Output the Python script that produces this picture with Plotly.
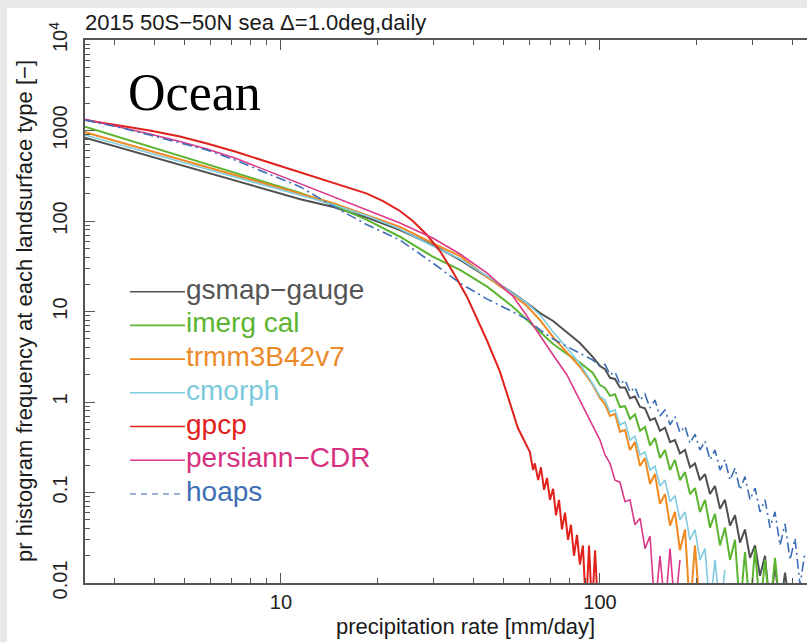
import math
import plotly.graph_objects as go

# ---------------- data ----------------
rate_body = [2.43, 3.13, 3.88, 4.82, 5.86, 7.17, 8.79, 11.5, 14.6, 18.6, 23.6,
             29.9, 36.4, 44.3, 53.3, 59.0, 64.9, 71.3, 78.8, 86.5, 95.0]
rate_tail = [100, 103.7, 107.5, 111.4, 115.5, 119.8, 124.2, 128.7, 133.5, 138.4,
             143.5, 148.7, 154.2, 159.9, 165.8, 171.8, 178.1, 184.7, 191.5, 198.5,
             205.8, 213.4, 221.2, 229.3, 237.8, 246.5, 255.6, 265.0, 274.7, 284.8,
             295.3, 306.2, 317.4, 329.1, 341.2, 353.7, 366.7, 380.2, 394.2, 408.6,
             423.7, 439.2]

gsmap_body = [833, 645, 519, 417, 343, 280, 228, 174, 143, 109, 79.5,
              54.3, 37.1, 24.2, 16.0, 12.4, 9.6, 7.85, 5.94, 4.49, 3.14]
gsmap_tail = [2.5, 2.3, 1.85, 1.8, 1.45, 1.45, 1.1, 1.15, 0.88, 0.85, 0.63, 0.66,
              0.48, 0.52, 0.36, 0.38, 0.27, 0.295, 0.19, 0.21, 0.137, 0.16, 0.096,
              0.118, 0.066, 0.083, 0.043, 0.056, 0.028, 0.039, 0.019, 0.026, 0.012,
              0.020, 0.005, 0.016, 0.005, 0.013, 0.005]

imerg_body = [1102, 837, 662, 524, 424, 340, 273, 204, 150, 103, 67,
              40.3, 28.8, 18.8, 11.3, 8.05, 5.93, 4.37, 3.39, 2.73, 2.09]
imerg_tail = [1.54, 1.43, 1.17, 1.22, 0.88, 0.90, 0.65, 0.73, 0.48, 0.53, 0.33,
              0.40, 0.24, 0.295, 0.177, 0.229, 0.137, 0.168, 0.096, 0.112, 0.061,
              0.083, 0.041, 0.058, 0.026, 0.041, 0.018, 0.030, 0.005, 0.022, 0.005,
              0.024, 0.005, 0.018, 0.005, 0.019, 0.005]

trmm_body = [955, 739, 594, 477, 391, 318, 260, 198, 157, 116, 86,
             57, 41, 24, 15.2, 11.5, 8.05, 5.22, 3.48, 2.45, 1.54]
trmm_tail = [1.10, 0.95, 0.70, 0.74, 0.47, 0.49, 0.295, 0.36, 0.196, 0.24, 0.124,
             0.16, 0.075, 0.096, 0.043, 0.061, 0.023, 0.039, 0.005, 0.026, 0.005]

cmorph_body = [892, 695, 560, 452, 373, 306, 250, 192, 152, 114, 81.6,
               52.9, 38.0, 24.7, 16.0, 12.4, 9.15, 5.94, 3.95, 2.63, 1.58]
cmorph_tail = [1.15, 1.05, 0.77, 0.82, 0.557, 0.60, 0.38, 0.42, 0.26, 0.28, 0.177,
               0.195, 0.118, 0.137, 0.079, 0.092, 0.050, 0.061, 0.030, 0.039, 0.018,
               0.024, 0.005, 0.018, 0.005, 0.014]

gpcp_rate = [2.43, 3.13, 3.88, 4.82, 5.86, 7.17, 8.79, 11.5, 14.6, 16.4, 18.6,
             20.9, 23.6, 25.9, 28.7, 31.5, 34.6, 38.3, 41.1, 44.3, 48.6, 52.2,
             55.3, 60.3,
             61.7, 62.5, 64.0, 65.3, 66.8, 68.2, 69.7, 71.3, 72.8, 74.4, 76.0,
             77.7, 79.4, 81.1, 82.9, 84.7, 86.5, 88.4, 90.4, 92.4, 94.4, 96.5, 98.6]
gpcp_freq = [1306, 1136, 1000, 858, 719, 586, 466, 344, 263, 235, 201,
             166, 129, 100, 70, 46.6, 27.3, 14.5, 8.48, 4.72, 2.15, 1.0,
             0.516, 0.28,
             0.177, 0.21, 0.137, 0.19, 0.107, 0.145, 0.083, 0.11, 0.056, 0.083, 0.039,
             0.06, 0.030, 0.044, 0.020, 0.034, 0.016, 0.026, 0.005, 0.026, 0.005, 0.023, 0.005]

persiann_body = [1330, 1093, 915, 756, 625, 497, 375, 261, 184, 132, 95,
                 64.9, 43.2, 26.6, 14.8, 8.9, 5.5, 3.31, 1.99, 1.05, 0.557]
persiann_tail = [0.38, 0.26, 0.21, 0.137, 0.13, 0.079, 0.083, 0.044, 0.052, 0.024,
                 0.033, 0.005, 0.020, 0.005, 0.024, 0.005, 0.018]

hoaps_body = [1306, 1080, 892, 737, 609, 472, 351, 238, 145, 91, 61.7,
              34.4, 20.6, 13.7, 9.9, 8.2, 6.25, 4.97, 4.1, 3.48, 2.91]
hoaps_tail = [2.5, 2.6, 2.0, 2.15, 1.58, 1.75, 1.28, 1.46, 1.05, 1.22, 0.86, 1.05,
              0.70, 0.82, 0.56, 0.69, 0.46, 0.54, 0.35, 0.44, 0.295, 0.37, 0.23,
              0.295, 0.177, 0.23, 0.137, 0.186, 0.107, 0.15, 0.083, 0.112, 0.061,
              0.083, 0.041, 0.061, 0.026, 0.045, 0.018, 0.031, 0.0095, 0.022]

names = ["gsmap−gauge", "imerg cal", "trmm3B42v7", "cmorph", "gpcp", "persiann−CDR", "hoaps"]
y_ticks = [0.01, 0.1, 1, 10, 100, 1000, 10000]
y_ticktext = ["0.01", "0.1", "1", "10", "100", "1000", "10<sup>4</sup>"]
x_ticks = [10, 100]
x_ticktext = ["10", "100"]

# ---------------- styling ----------------
colors = ["#505050", "#5cb531", "#f0891f", "#80cbe0", "#e0211c", "#dc3889", "#3a6db5"]
text_colors = ["#555555", "#5cb531", "#ec8a2a", "#7cc9dc", "#e0211c", "#d6307f", "#3f6fb5"]
widths = [2.0, 2.0, 2.0, 1.6, 2.0, 1.6, 1.6]
dashes = ["solid"] * 6 + ["10px,4px,2px,4px"]

series_x = [
    rate_body + rate_tail[:len(gsmap_tail)],
    rate_body + rate_tail[:len(imerg_tail)],
    rate_body + rate_tail[:len(trmm_tail)],
    rate_body + rate_tail[:len(cmorph_tail)],
    gpcp_rate,
    rate_body + rate_tail[:len(persiann_tail)],
    rate_body + rate_tail[:len(hoaps_tail)],
]
series_y = [
    gsmap_body + gsmap_tail,
    imerg_body + imerg_tail,
    trmm_body + trmm_tail,
    cmorph_body + cmorph_tail,
    gpcp_freq,
    persiann_body + persiann_tail,
    hoaps_body + hoaps_tail,
]

W, H = 807, 642
L, T, RPX, BPX = 85, 40, 807, 583
PW, PH = RPX - L, BPX - T
X_LO = 2.43
DECADE_PX = 319.0


def px(xp):
    return (xp - L) / PW


def py(yp):
    return (BPX - yp) / PH


FONT = "Liberation Sans, Arial, Helvetica, sans-serif"

fig = go.Figure()
for i in range(len(names)):
    fig.add_trace(go.Scatter(
        x=series_x[i], y=series_y[i], mode="lines", name=names[i],
        line=dict(color=colors[i], width=widths[i], dash=dashes[i]),
        showlegend=False, hoverinfo="skip"))

x_minor = [m * 10 ** e for e in (0, 1, 2) for m in range(2, 10)]
y_minor = [m * 10.0 ** e for e in range(-2, 4) for m in range(2, 10)]

fig.update_layout(
    width=W, height=H,
    margin=dict(l=L, r=W - RPX, t=T, b=H - BPX, pad=0),
    paper_bgcolor="#e8e8e8", plot_bgcolor="white",
    showlegend=False,
    font=dict(family=FONT, color="#222222"),
    xaxis=dict(
        type="log",
        range=[math.log10(X_LO), math.log10(X_LO) + PW / DECADE_PX],
        showline=True, linecolor="#555555", linewidth=1.5, mirror="ticks",
        ticks="inside", ticklen=10, tickwidth=1.2, tickcolor="#555555",
        tickvals=x_ticks, ticktext=x_ticktext,
        tickfont=dict(size=20, color="#222222", family=FONT),
        showgrid=False, zeroline=False, automargin=False,
        minor=dict(ticks="inside", ticklen=5, tickwidth=1, tickcolor="#555555",
                   tickvals=x_minor, showgrid=False),
    ),
    yaxis=dict(
        type="log", range=[-2, 4],
        showline=True, linecolor="#555555", linewidth=1.5, mirror=False,
        ticks="inside", ticklen=10, tickwidth=1.2, tickcolor="#555555",
        tickvals=y_ticks, ticktext=y_ticktext, tickangle=-90,
        ticklabelstandoff=8, automargin=False,
        tickfont=dict(size=20, color="#222222", family=FONT),
        showgrid=False, zeroline=False,
        minor=dict(ticks="inside", ticklen=5, tickwidth=1, tickcolor="#555555",
                   tickvals=y_minor, showgrid=False),
    ),
)

# white panel behind the chart
fig.add_shape(type="rect", xref="paper", yref="paper", layer="below",
              x0=px(7), x1=px(W + 2), y0=py(H + 2), y1=py(8),
              fillcolor="white", line=dict(width=0))

annotations = [
    dict(text="2015 50S−50N sea Δ=1.0deg,daily", x=px(L - 2), y=py(22.5),
         xanchor="left", yanchor="middle", font=dict(size=22, color="#1a1a1a", family=FONT)),
    dict(text="Ocean", x=px(126), y=py(92.5), xanchor="left", yanchor="middle",
         font=dict(size=52, color="#000000", family="Liberation Serif, Times New Roman, serif")),
    dict(text="precipitation rate [mm/day]", x=px(465), y=py(626),
         xanchor="center", yanchor="middle", font=dict(size=22, color="#1a1a1a", family=FONT)),
    dict(text="pr histogram frequency at each landsurface type [−]", x=px(25), y=py(311),
         xanchor="center", yanchor="middle", textangle=-90,
         font=dict(size=22, color="#1a1a1a", family=FONT)),
]

# legend drawn as lines + coloured labels
LEG_X0, LEG_X1, LEG_Y0, LEG_DY = 130, 185, 291.7, 33.7
for i, nm in enumerate(names):
    yy = LEG_Y0 + LEG_DY * i
    fig.add_shape(type="line", xref="paper", yref="paper",
                  x0=px(LEG_X0), x1=px(LEG_X1), y0=py(yy), y1=py(yy),
                  line=dict(color=colors[i] if i < 6 else "#8ea8cf", width=1.6,
                            dash="solid" if i < 6 else "6px,5px"))
    annotations.append(dict(text=nm, x=px(LEG_X1 - 1), y=py(yy - 2.5), xanchor="left",
                            yanchor="middle", showarrow=False,
                            font=dict(size=28, color=text_colors[i], family=FONT)))

for a in annotations:
    a.setdefault("showarrow", False)
    a["xref"] = "paper"
    a["yref"] = "paper"
fig.update_layout(annotations=annotations)

fig.write_html("out.html", config={"displayModeBar": False},
               post_script="document.body.style.margin='0px';"
                           "document.body.style.overflow='hidden';")
